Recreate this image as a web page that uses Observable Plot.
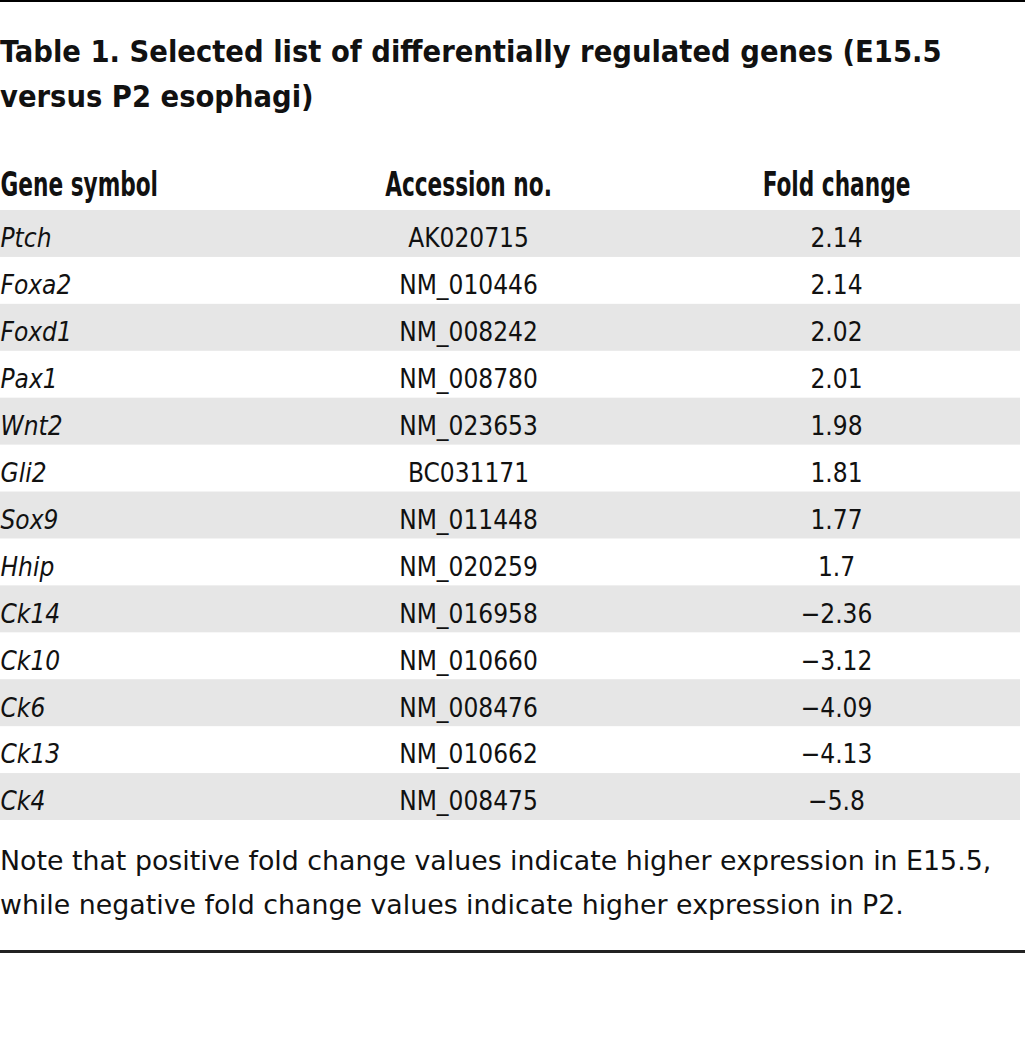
<!DOCTYPE html>
<html>
<head>
<meta charset="utf-8">
<script src="https://cdn.jsdelivr.net/npm/d3@7"></script>
<script src="https://cdn.jsdelivr.net/npm/@observablehq/plot@0.6"></script>
<style>
  html, body { margin: 0; padding: 0; background: #fff; }
  body { width: 1025px; height: 1041px; position: relative; overflow: hidden; color: #111; }
  #topline { position: absolute; left: 0; top: 0; width: 1025px; height: 2px; background: #000; }
  #title {
    position: absolute; left: 0; top: 30px; margin: 0;
    font-family: "DejaVu Sans Condensed", "DejaVu Sans", sans-serif;
    font-stretch: condensed; font-weight: bold; font-size: 30.5px; line-height: 44.5px; white-space: nowrap;
  }
  #chart { position: absolute; left: 0; top: 140px; line-height: 0; }
  #note {
    position: absolute; left: 0; top: 839px; margin: 0;
    font-family: "DejaVu Sans", sans-serif;
    font-size: 26.8px; line-height: 44px; white-space: nowrap;
  }
  #bottomline { position: absolute; left: 0; top: 950px; width: 1025px; height: 2.5px; background: #222; }
</style>
</head>
<body>
<div id="topline"></div>
<h1 id="title">Table 1. Selected list of differentially regulated genes (E15.5<br>versus P2 esophagi)</h1>
<div id="chart"></div>
<p id="note">Note that positive fold change values indicate higher expression in E15.5,<br>while negative fold change values indicate higher expression in P2.</p>
<div id="bottomline"></div>
<script>
const columns = ["Gene symbol", "Accession no.", "Fold change"];
const genes = ["Ptch", "Foxa2", "Foxd1", "Pax1", "Wnt2", "Gli2", "Sox9", "Hhip", "Ck14", "Ck10", "Ck6", "Ck13", "Ck4"];
const accessions = ["AK020715", "NM_010446", "NM_008242", "NM_008780", "NM_023653", "BC031171", "NM_011448", "NM_020259", "NM_016958", "NM_010660", "NM_008476", "NM_010662", "NM_008475"];
const foldChanges = [2.14, 2.14, 2.02, 2.01, 1.98, 1.81, 1.77, 1.7, -2.36, -3.12, -4.09, -4.13, -5.8];

const rows = genes.map((g, i) => ({gene: g, accession: accessions[i], fold: foldChanges[i], index: i}));
const fmt = d3.format("");
const bodyFont = '"DejaVu Sans Condensed", "DejaVu Sans", sans-serif';
const headerScale = 0.73;

const chart = Plot.plot({
  width: 1025,
  height: 680,
  marginTop: 70,
  marginBottom: 0,
  marginLeft: 0,
  marginRight: 5,
  style: {fontFamily: bodyFont, fontStretch: "condensed", fontSize: "26px", color: "#111", background: "transparent", overflow: "visible"},
  x: {type: "point", domain: columns.slice(1), range: [468, 836], padding: 0, round: false, axis: null},
  y: {type: "band", domain: genes, padding: 0, round: false, axis: null},
  marks: [
    Plot.cell(rows.filter(d => d.index % 2 === 0), {y: "gene", fill: "#e6e6e6", inset: 0}),
    Plot.text(rows, {y: "gene", text: "gene", frameAnchor: "left", textAnchor: "start", fontStyle: "italic", dy: 5, fill: "#111"}),
    Plot.text(rows, {x: () => "Accession no.", y: "gene", text: "accession", dy: 5, fill: "#111"}),
    Plot.text(rows, {x: () => "Fold change", y: "gene", text: d => fmt(d.fold), dy: 5, fill: "#111"}),
    Plot.text(columns.slice(0, 1), {text: d => d, frameAnchor: "top-left", textAnchor: "start", lineAnchor: "middle", dy: -25, fontWeight: "bold", fontSize: 33, fill: "#111"}),
    Plot.text(columns.slice(1), {x: d => d, text: d => d, frameAnchor: "top", lineAnchor: "middle", dy: -25, fontWeight: "bold", fontSize: 33, fill: "#111"})
  ]
});
chart.style.fontStretch = "condensed";
// narrow the bold header labels horizontally around their anchors
d3.select(chart).selectAll('g[font-weight="bold"] text').each(function () {
  const t = this.getAttribute("transform") || "";
  this.setAttribute("transform", `${t} scale(${headerScale},1)`);
});
document.getElementById("chart").appendChild(chart);
</script>
</body>
</html>
